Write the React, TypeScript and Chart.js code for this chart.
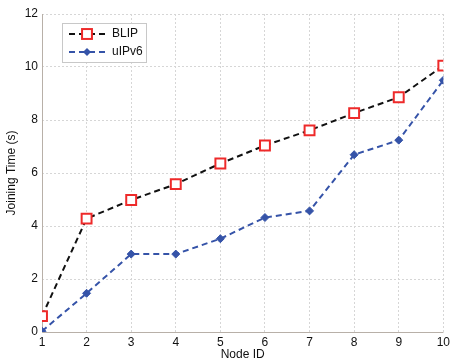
import React, { useEffect, useRef } from "react";
import { Chart, registerables } from "chart.js";

Chart.register(...registerables);

const nodeIds = [1, 2, 3, 4, 5, 6, 7, 8, 9, 10];
const blipTimes = [0.6, 4.28, 4.98, 5.58, 6.36, 7.04, 7.61, 8.26, 8.86, 10.05];
const uipv6Times = [0.03, 1.46, 2.94, 2.94, 3.52, 4.32, 4.57, 6.69, 7.24, 9.5];
const seriesLabels = ["BLIP", "uIPv6"];
const yTicks = [0, 2, 4, 6, 8, 10, 12];

const FONT = "'Liberation Sans', Arial, Helvetica, sans-serif";

const legendPlugin = {
  id: "insideLegend",
  afterDraw(chart: any) {
    const ctx = chart.ctx as CanvasRenderingContext2D;
    const ca = chart.chartArea;
    const x0 = ca.left + 20;
    const y0 = ca.top + 9;
    const w = 84;
    const h = 39;
    ctx.save();
    ctx.fillStyle = "#ffffff";
    ctx.fillRect(x0, y0, w, h);
    ctx.strokeStyle = "#c8c8c8";
    ctx.lineWidth = 1;
    ctx.setLineDash([]);
    ctx.strokeRect(x0 + 0.5, y0 + 0.5, w, h);
    chart.data.datasets.forEach((ds: any, i: number) => {
      const cy = y0 + 11 + i * 18;
      const lx1 = x0 + 7;
      const lx2 = x0 + 43;
      ctx.strokeStyle = ds.borderColor;
      ctx.lineWidth = 2;
      ctx.setLineDash(ds.borderDash || []);
      ctx.beginPath();
      ctx.moveTo(lx1, cy);
      ctx.lineTo(lx2, cy);
      ctx.stroke();
      ctx.setLineDash([]);
      const mx = (lx1 + lx2) / 2;
      if (ds.pointStyle === "rect") {
        const r = ds.pointRadius;
        ctx.fillStyle = ds.pointBackgroundColor;
        ctx.strokeStyle = ds.pointBorderColor;
        ctx.lineWidth = ds.pointBorderWidth;
        ctx.fillRect(mx - r * 0.707, cy - r * 0.707, r * 1.414, r * 1.414);
        ctx.strokeRect(mx - r * 0.707, cy - r * 0.707, r * 1.414, r * 1.414);
      } else {
        const r = ds.pointRadius;
        ctx.fillStyle = ds.pointBackgroundColor;
        ctx.beginPath();
        ctx.moveTo(mx, cy - r);
        ctx.lineTo(mx + r, cy);
        ctx.lineTo(mx, cy + r);
        ctx.lineTo(mx - r, cy);
        ctx.closePath();
        ctx.fill();
      }
      ctx.fillStyle = "#111";
      ctx.font = `12px ${FONT}`;
      ctx.textBaseline = "middle";
      ctx.textAlign = "left";
      ctx.fillText(ds.label, x0 + 50, cy);
    });
    ctx.restore();
  },
};

const axisLinesPlugin = {
  id: "axisLines",
  beforeDatasetsDraw(chart: any) {
    const ctx = chart.ctx as CanvasRenderingContext2D;
    const ca = chart.chartArea;
    ctx.save();
    ctx.setLineDash([]);
    ctx.strokeStyle = "#b8b0a8";
    ctx.lineWidth = 1;
    ctx.beginPath();
    ctx.moveTo(Math.round(ca.left) + 0.5, ca.top);
    ctx.lineTo(Math.round(ca.left) + 0.5, Math.round(ca.bottom) + 0.5);
    ctx.lineTo(ca.right, Math.round(ca.bottom) + 0.5);
    ctx.stroke();
    ctx.restore();
  },
};

export default function App() {
  const ref = useRef<HTMLCanvasElement | null>(null);
  useEffect(() => {
    document.body.style.margin = "0";
    const canvas = ref.current!;
    const chart = new Chart(canvas, {
      type: "line",
      data: {
        datasets: [
          {
            label: seriesLabels[0],
            data: nodeIds.map((x, i) => ({ x, y: blipTimes[i] })),
            borderColor: "#111111",
            borderWidth: 2,
            borderDash: [6, 4],
            pointStyle: "rect",
            pointRadius: 7,
            pointBorderWidth: 2,
            pointBorderColor: "#ee2a2a",
            pointBackgroundColor: "#ffffff",
            fill: false,
            tension: 0,
          },
          {
            label: seriesLabels[1],
            data: nodeIds.map((x, i) => ({ x, y: uipv6Times[i] })),
            borderColor: "#3553a8",
            borderWidth: 2,
            borderDash: [6, 4],
            pointStyle: "rectRot",
            pointRadius: 4,
            pointBorderWidth: 1,
            pointBorderColor: "#3553a8",
            pointBackgroundColor: "#3553a8",
            fill: false,
            tension: 0,
          },
        ],
      },
      options: {
        animation: false,
        responsive: false,
        layout: { padding: { top: 14, right: 6, left: 0, bottom: 0 } },
        plugins: {
          legend: { display: false },
          tooltip: { enabled: false },
        },
        scales: {
          x: {
            type: "linear",
            min: 1,
            max: 10,
            ticks: {
              stepSize: 1,
              color: "#111",
              font: { family: FONT, size: 12 },
              padding: 3,
            },
            grid: {
              color: "#d6d6d6",
              lineWidth: 1,
              drawTicks: false,
            },
            border: { display: false, dash: [2, 2] },
            title: {
              display: true,
              text: "Node ID",
              color: "#111",
              font: { family: FONT, size: 12 },
              padding: { top: 0, bottom: 2 },
            },
            afterFit: (s: any) => {
              s.height = 32;
            },
          },
          y: {
            min: 0,
            max: 12,
            afterBuildTicks: (s: any) => {
              s.ticks = yTicks.map((v) => ({ value: v }));
            },
            ticks: {
              color: "#111",
              font: { family: FONT, size: 12 },
              padding: 4,
            },
            grid: {
              color: "#d6d6d6",
              lineWidth: 1,
              drawTicks: false,
            },
            border: { display: false, dash: [2, 2] },
            title: {
              display: true,
              text: "Joining Time (s)",
              color: "#111",
              font: { family: FONT, size: 12 },
              padding: { top: 4, bottom: 4 },
            },
            afterFit: (s: any) => {
              s.width = 42;
            },
          },
        },
      },
      plugins: [axisLinesPlugin, legendPlugin],
    });
    return () => chart.destroy();
  }, []);
  return (
    <div style={{ position: "absolute", left: 0, top: 0, width: 453, height: 364 }}>
      <canvas ref={ref} width={453} height={364} style={{ width: 453, height: 364 }} />
    </div>
  );
}
